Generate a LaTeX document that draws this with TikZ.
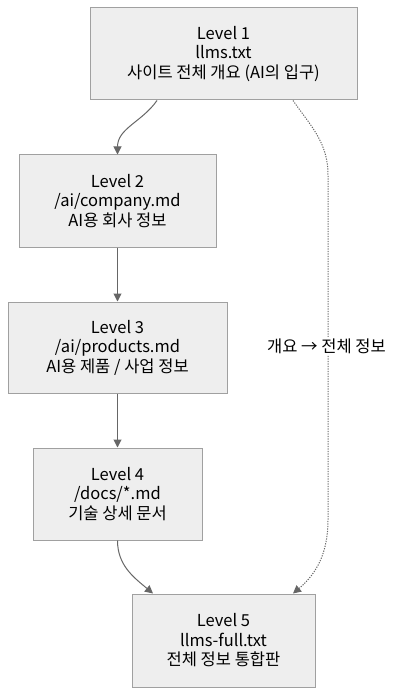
\documentclass[tikz,border=0pt]{standalone}
\usepackage{fontspec}
\setmainfont{Noto Sans CJK KR}
\usepackage{tikz}
\usetikzlibrary{arrows.meta,calc,positioning}
\definecolor{boxfill}{HTML}{EEEEEE}
\definecolor{boxline}{HTML}{A0A0A0}
\definecolor{edge}{HTML}{666666}

\begin{document}
\begin{tikzpicture}[x=1pt,y=-1pt, every node/.style={font=\fontsize{16.5}{19.5}\selectfont,align=center,text=black},
  p/.style={draw=boxline,fill=boxfill,line width=1pt,inner sep=0pt},
  arr/.style={-{Triangle[length=8pt,width=8pt]},draw=edge,line width=1pt},
  dots/.style={arr,line width=1pt,dash pattern=on 1.2pt off 1.3pt}]
  \useasboundingbox (0,0) rectangle (400,695);
  \node[p,minimum width=267pt,minimum height=92pt] (llms) at (223.5,54) {Level 1\\llms.txt\\사이트 전체 개요 (AI의 입구)};
  \node[p,minimum width=197pt,minimum height=92pt] (company) at (117.5,201) {Level 2\\/ai/company.md\\AI용 회사 정보};
  \node[p,minimum width=219pt,minimum height=91pt] (products) at (117.5,347.5) {Level 3\\/ai/products.md\\AI용 제품 / 사업 정보};
  \node[p,minimum width=169pt,minimum height=92pt] (docs) at (117.5,494) {Level 4\\/docs/*.md\\기술 상세 문서};
  \node[p,minimum width=183pt,minimum height=93pt] (full) at (223.5,640.5) {Level 5\\llms-full.txt\\전체 정보 통합판};
  \coordinate (bendtop) at (328,175); \coordinate (bendbot) at (328,520);
  \draw[arr] ([xshift=-66.5pt]llms.south) to[out=-125,in=90] (company.north);
  \draw[arr] (company) -- (products); \draw[arr] (products) -- (docs);
  \draw[arr] (docs.south) to[out=-90,in=140] ([xshift=-70.5pt]full.north);
  \draw[dots] ([xshift=69.5pt]llms.south) to[out=-55,in=90] (bendtop) -- (bendbot) to[out=-90,in=40] ([xshift=69.5pt]full.north);
  \node[fill=white,inner sep=2pt] (overview) at (326.5,346) {개요 → 전체 정보};
\end{tikzpicture}
\end{document}
